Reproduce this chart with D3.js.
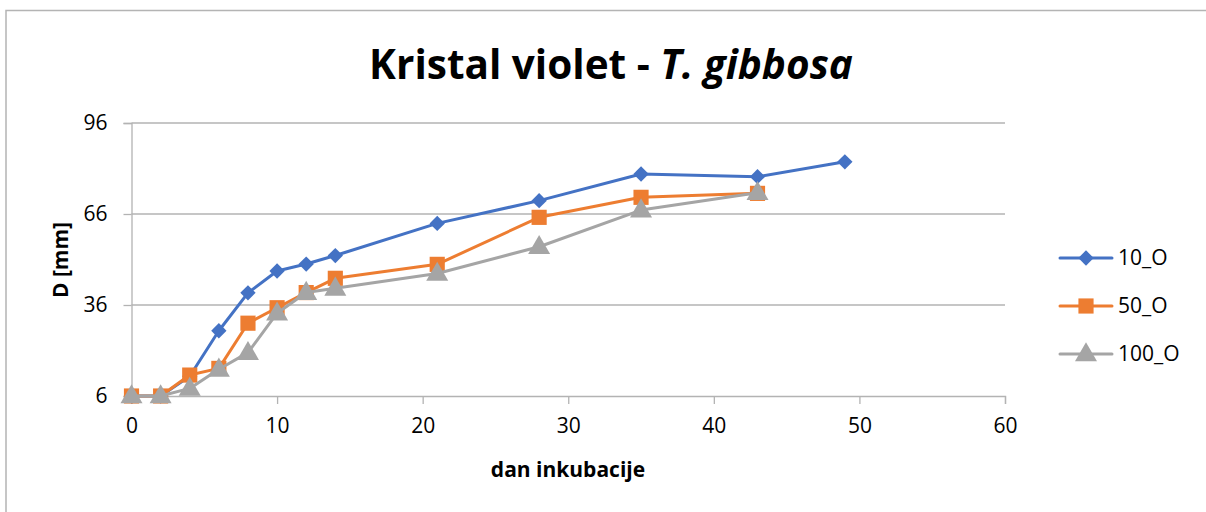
<!DOCTYPE html>
<html><head><meta charset="utf-8">
<script src="https://cdn.jsdelivr.net/npm/d3@7"></script>
<style>body{margin:0;background:#fff}svg{display:block}</style>
</head><body>
<script>
const days10 = [0, 2, 4, 6, 8, 10, 12, 14, 21, 28, 35, 43, 49];
const vals10 = [6, 6, 12.5, 27.5, 40, 47.2, 49.5, 52.3, 62.9, 70.4, 79.2, 78.3, 83.2];
const days50 = [0, 2, 4, 6, 8, 10, 12, 14, 21, 28, 35, 43];
const vals50 = [6, 6, 12.9, 15.1, 30, 35.1, 40.1, 44.8, 49.4, 64.9, 71.5, 72.8];
const days100 = [0, 2, 4, 6, 8, 10, 12, 14, 21, 28, 35, 43];
const vals100 = [6, 6, 8.5, 14.8, 20.3, 33.3, 40.1, 41.5, 46.4, 55.2, 67.3, 73];
const seriesNames = ["10_O", "50_O", "100_O"];
const xTicks = [0, 10, 20, 30, 40, 50, 60];
const yTicks = [6, 36, 66, 96];

const W = 1206, H = 512;
const svg = d3.select("body").append("svg").attr("width", W).attr("height", H);
const font = "Open Sans, Noto Sans, sans-serif";

// chart border (partially visible)
svg.append("path").attr("d", "M6,520 L6,10.5 L1215,10.5")
  .attr("fill", "none").attr("stroke", "#b4b4b4").attr("stroke-width", 1.5);

const x = d3.scaleLinear().domain([0, 60]).range([131.5, 1005]);
const y = d3.scaleLinear().domain([6, 96]).range([396, 123]);

// gridlines
svg.append("g").selectAll("line").data(yTicks.slice(1)).join("line")
  .attr("x1", x(0)).attr("x2", x(60)).attr("y1", d => y(d)).attr("y2", d => y(d))
  .attr("stroke", "#b3b3b3").attr("stroke-width", 1.3);

// y axis
const yAxis = svg.append("g").attr("transform", `translate(${x(0)},0)`)
  .call(d3.axisLeft(y).tickValues(yTicks).tickSize(8).tickPadding(16));
yAxis.select(".domain").attr("stroke", "#b3b3b3").attr("stroke-width", 1.3);
yAxis.selectAll(".tick line").attr("stroke", "#b3b3b3").attr("stroke-width", 1.3);
yAxis.selectAll("text").attr("font-family", font).attr("font-size", 21).attr("fill", "#000");

// x axis
const xAxis = svg.append("g").attr("transform", `translate(0,${y(6)})`)
  .call(d3.axisBottom(x).tickValues(xTicks).tickSize(8).tickPadding(14));
xAxis.select(".domain").attr("stroke", "#b3b3b3").attr("stroke-width", 1.3);
xAxis.selectAll(".tick line").attr("stroke", "#b3b3b3").attr("stroke-width", 1.3);
xAxis.selectAll("text").attr("font-family", font).attr("font-size", 21).attr("fill", "#000");

// title
const t = svg.append("text").attr("x", 611).attr("y", 79).attr("text-anchor", "middle")
  .attr("font-family", font).attr("font-size", 40.5).attr("font-weight", "bold");
t.append("tspan").text("Kristal violet - ");
t.append("tspan").attr("font-style", "italic").text("T. gibbosa");

// axis titles
svg.append("text").attr("x", 568).attr("y", 477).attr("text-anchor", "middle")
  .attr("font-family", font).attr("font-size", 21).attr("font-weight", "bold").text("dan inkubacije");
svg.append("text").attr("transform", "translate(68,260) rotate(-90)").attr("text-anchor", "middle")
  .attr("font-family", font).attr("font-size", 21).attr("font-weight", "bold").text("D [mm]");

const colors = ["#4472C4", "#ED7D31", "#A5A5A5"];
const symbols = [d3.symbolDiamond2, d3.symbolSquare, d3.symbolTriangle];
const sizes = [150, 230, 210];
const series = [
  days10.map((d, i) => [d, vals10[i]]),
  days50.map((d, i) => [d, vals50[i]]),
  days100.map((d, i) => [d, vals100[i]])
];
const line = d3.line().x(d => x(d[0])).y(d => y(d[1]));

series.forEach((s, k) => {
  svg.append("path").datum(s).attr("d", line).attr("fill", "none")
    .attr("stroke", colors[k]).attr("stroke-width", 3).attr("stroke-linejoin", "round").attr("stroke-linecap", "round");
  svg.append("g").selectAll("path").data(s).join("path")
    .attr("transform", d => `translate(${x(d[0])},${y(d[1]) + (k === 2 ? 1 : 0)})`)
    .attr("d", d3.symbol(symbols[k], sizes[k])).attr("fill", colors[k]);
});

// legend
const ly = [258, 306, 354];
seriesNames.forEach((n, k) => {
  const g = svg.append("g").attr("transform", `translate(0,${ly[k]})`);
  g.append("line").attr("x1", 1060).attr("x2", 1112).attr("y1", 0).attr("y2", 0)
    .attr("stroke", colors[k]).attr("stroke-width", 3).attr("stroke-linecap", "round");
  g.append("path").attr("transform", `translate(1086,${k === 2 ? 1 : 0})`)
    .attr("d", d3.symbol(symbols[k], sizes[k])).attr("fill", colors[k]);
  g.append("text").attr("x", 1118).attr("y", 0).attr("dy", "0.35em")
    .attr("font-family", font).attr("font-size", 21).text(n);
});
</script>
</body></html>
